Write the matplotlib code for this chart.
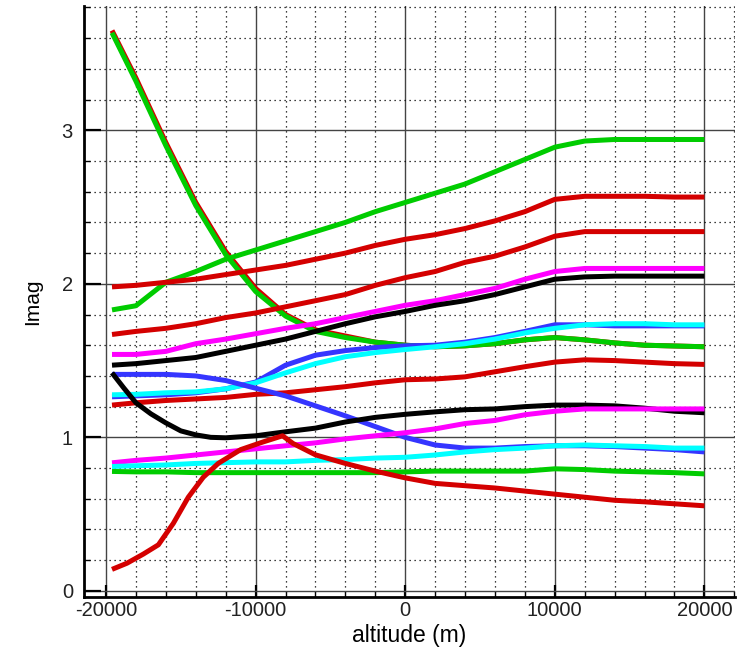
import matplotlib.pyplot as plt
from matplotlib.ticker import MultipleLocator

# altitude samples (m)
altitude = [-19600, -18000, -16000, -14000, -12000, -10000, -8000, -6000, -4000,
            -2000, 0, 2000, 4000, 6000, 8000, 10000, 12000, 14000, 16000, 18000, 20000]
# the two strongly curved modes are read at more points near the left end
altitude_red_low = [-19600, -18600, -17500, -16500, -15500, -14500, -13500, -12500,
                    -11000, -9500, -8200, -7500, -6000, -4000, -2000, 0, 2000, 4000,
                    6000, 8000, 10000, 12000, 14000, 16000, 18000, 20000]
altitude_black_low = [-19600, -18800, -18000, -17000, -16000, -15000, -14000, -13000,
                      -12000, -10000, -8000, -6000, -4000, -2000, 0, 2000, 4000, 6000,
                      8000, 10000, 12000, 14000, 16000, 18000, 20000]

# Imag of each mode
red_high = [3.65, 3.34, 2.92, 2.53, 2.21, 1.97, 1.80, 1.70, 1.66, 1.62, 1.60,
            1.59, 1.596, 1.61, 1.635, 1.65, 1.635, 1.615, 1.60, 1.595, 1.59]
green_fall = [3.635, 3.32, 2.90, 2.51, 2.19, 1.95, 1.79, 1.69, 1.65, 1.62, 1.60,
              1.59, 1.596, 1.61, 1.635, 1.65, 1.635, 1.615, 1.60, 1.595, 1.59]
green_rise = [1.83, 1.857, 2.01, 2.08, 2.16, 2.22, 2.28, 2.34, 2.40, 2.47, 2.53,
              2.59, 2.65, 2.73, 2.81, 2.89, 2.93, 2.94, 2.94, 2.94, 2.94]
red_2 = [1.98, 1.99, 2.01, 2.03, 2.06, 2.09, 2.12, 2.16, 2.20, 2.25, 2.29,
         2.32, 2.36, 2.41, 2.47, 2.55, 2.57, 2.57, 2.57, 2.565, 2.565]
red_3 = [1.67, 1.69, 1.71, 1.74, 1.78, 1.81, 1.85, 1.89, 1.93, 1.99, 2.04,
         2.08, 2.14, 2.18, 2.24, 2.31, 2.34, 2.34, 2.34, 2.34, 2.34]
magenta_high = [1.54, 1.54, 1.56, 1.61, 1.64, 1.675, 1.71, 1.74, 1.78, 1.82, 1.86,
                1.89, 1.93, 1.97, 2.03, 2.08, 2.10, 2.10, 2.10, 2.10, 2.10]
black_high = [1.47, 1.48, 1.50, 1.52, 1.56, 1.60, 1.64, 1.69, 1.74, 1.785, 1.82,
              1.86, 1.89, 1.93, 1.98, 2.03, 2.045, 2.05, 2.05, 2.05, 2.05]
blue_rise = [1.264, 1.27, 1.277, 1.29, 1.316, 1.36, 1.47, 1.535, 1.565, 1.585, 1.596,
             1.60, 1.62, 1.65, 1.69, 1.733, 1.733, 1.726, 1.726, 1.726, 1.726]
cyan_high = [1.277, 1.28, 1.29, 1.296, 1.316, 1.355, 1.42, 1.48, 1.525, 1.552, 1.572,
             1.59, 1.61, 1.64, 1.68, 1.71, 1.733, 1.74, 1.74, 1.733, 1.733]
red_mid = [1.21, 1.225, 1.24, 1.25, 1.26, 1.28, 1.29, 1.31, 1.33, 1.355, 1.375,
           1.38, 1.394, 1.427, 1.46, 1.49, 1.505, 1.50, 1.49, 1.48, 1.475]
blue_fall = [1.41, 1.41, 1.41, 1.40, 1.37, 1.32, 1.27, 1.205, 1.14, 1.07, 1.00,
             0.95, 0.93, 0.93, 0.94, 0.945, 0.945, 0.94, 0.93, 0.92, 0.905]
black_low = [1.42, 1.32, 1.225, 1.153, 1.094, 1.042, 1.016, 1.0, 0.997, 1.01, 1.036,
             1.06, 1.10, 1.13, 1.15, 1.166, 1.18, 1.185, 1.20, 1.21, 1.21, 1.205,
             1.19, 1.17, 1.16]
magenta_low = [0.834, 0.85, 0.865, 0.885, 0.905, 0.925, 0.945, 0.964, 0.99, 1.01, 1.03,
               1.055, 1.09, 1.11, 1.147, 1.17, 1.185, 1.185, 1.185, 1.185, 1.185]
cyan_low = [0.81, 0.815, 0.82, 0.83, 0.835, 0.84, 0.84, 0.85, 0.855, 0.865, 0.87,
            0.885, 0.905, 0.92, 0.93, 0.945, 0.95, 0.945, 0.94, 0.93, 0.93]
green_flat = [0.778, 0.775, 0.775, 0.77, 0.77, 0.77, 0.77, 0.77, 0.77, 0.77, 0.775,
              0.78, 0.78, 0.78, 0.78, 0.795, 0.79, 0.78, 0.775, 0.77, 0.762]
red_low = [0.14, 0.18, 0.24, 0.30, 0.44, 0.61, 0.74, 0.83, 0.92, 0.97, 1.01, 0.96,
           0.886, 0.83, 0.78, 0.736, 0.70, 0.685, 0.67, 0.65, 0.63, 0.61, 0.59,
           0.58, 0.567, 0.554]

RED = "#d40000"
GREEN = "#00cc00"
BLUE = "#3535ff"
CYAN = "#00ffff"
MAGENTA = "#ff00ff"

series = [
    (altitude, red_high, RED), (altitude, green_fall, GREEN),
    (altitude, green_rise, GREEN), (altitude, red_2, RED), (altitude, red_3, RED),
    (altitude, magenta_high, MAGENTA), (altitude, black_high, "black"),
    (altitude, blue_rise, BLUE), (altitude, cyan_high, CYAN),
    (altitude, red_mid, RED), (altitude, blue_fall, BLUE),
    (altitude_black_low, black_low, "black"), (altitude, magenta_low, MAGENTA),
    (altitude, cyan_low, CYAN), (altitude, green_flat, GREEN),
    (altitude_red_low, red_low, RED),
]

plt.rcParams["font.family"] = ["Liberation Sans", "DejaVu Sans"]
plt.rcParams["axes.unicode_minus"] = False

fig = plt.figure(figsize=(7.41, 6.58), dpi=100)
ax = fig.add_axes([0.1134, 0.0927, 0.8786, 0.8983])

for xs, values, color in series:
    ax.plot(xs, values, color=color, linewidth=3.6, solid_capstyle="butt", zorder=3)

ax.set_xlim(-21470, 22050)
ax.set_ylim(-0.04, 3.81)

ax.xaxis.set_major_locator(MultipleLocator(10000))
ax.xaxis.set_minor_locator(MultipleLocator(2000))
ax.yaxis.set_major_locator(MultipleLocator(1))
ax.yaxis.set_minor_locator(MultipleLocator(0.2))

ax.grid(which="major", color="#444444", linewidth=1.0, linestyle="-", zorder=1)
ax.grid(which="minor", color="black", linewidth=0.9, linestyle=(0, (1, 3)), zorder=1)
ax.set_axisbelow(True)

for side in ["top", "right"]:
    ax.spines[side].set_visible(False)
for side in ["left", "bottom"]:
    ax.spines[side].set_linewidth(2.0)

ax.tick_params(which="major", direction="in", length=9, width=1.6, labelsize=14.5,
               labelcolor="#222222", pad=3)
ax.tick_params(which="minor", direction="in", length=4, width=1.0)
ax.tick_params(axis="y", which="major", length=12, pad=8)

ax.set_xlabel("altitude (m)", fontsize=16.5, labelpad=3)
ax.set_ylabel("Imag", fontsize=15, labelpad=14)

plt.savefig("out.png")
